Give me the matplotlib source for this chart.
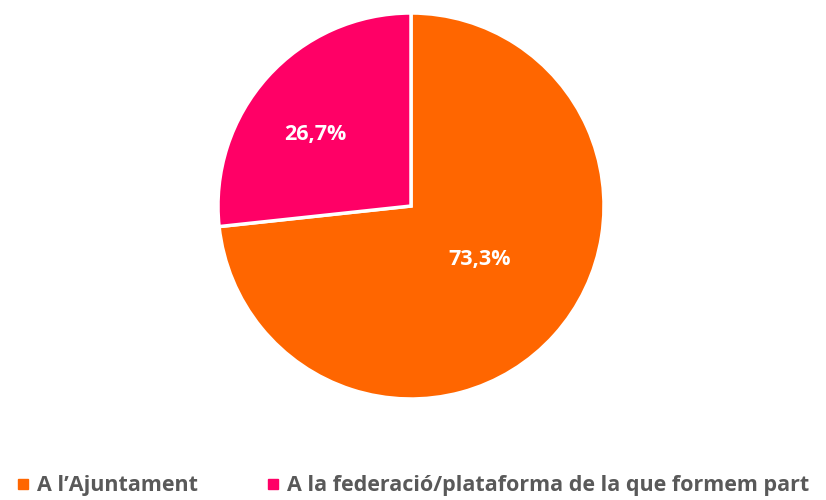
import numpy as np
import matplotlib.pyplot as plt
from matplotlib.lines import Line2D

labels = ["A l\u2019Ajuntament", "A la federació/plataforma de la que formem part"]
values = [73.3, 26.7]
colors = ["#FF6600", "#FF0066"]
label_dist = [0.45, 0.62]

plt.rcParams["font.family"] = ["Open Sans", "DejaVu Sans"]

fig = plt.figure(figsize=(8.26, 5.0), dpi=100)
cx, cy, r = 411, 206, 193
ax = fig.add_axes([(cx - r) / 826, (500 - cy - r) / 500, 2 * r / 826, 2 * r / 500])

wedges, _ = ax.pie(values, colors=colors, startangle=90, counterclock=False,
                   radius=1.0, wedgeprops=dict(edgecolor="white", linewidth=2.5))

# percentage labels, nudged a little counterclockwise from the wedge middle
for w, v, d in zip(wedges, values, label_dist):
    ang = np.deg2rad((w.theta1 + w.theta2) / 2 + (5 if v < 50 else 4))
    ax.text(d * np.cos(ang), d * np.sin(ang), f"{v:.1f}%".replace(".", ","),
            ha="center", va="center", color="white", fontsize=15.5, fontweight="bold")

ax.set_xlim(-1, 1)
ax.set_ylim(-1, 1)
ax.set_aspect("equal")
ax.axis("off")

handles = [Line2D([], [], marker="s", linestyle="none", markersize=7,
                  markerfacecolor=c, markeredgecolor=c) for c in colors]
leg = fig.legend(handles, labels, loc="center", bbox_to_anchor=(0.5, 1 - 486 / 500),
                 ncol=2, frameon=False, fontsize=15.5, handlelength=0.6,
                 handletextpad=0.35, columnspacing=3.2)
for t in leg.get_texts():
    t.set_color("#595959")
    t.set_fontweight("bold")

fig.savefig("out.png", dpi=100)
